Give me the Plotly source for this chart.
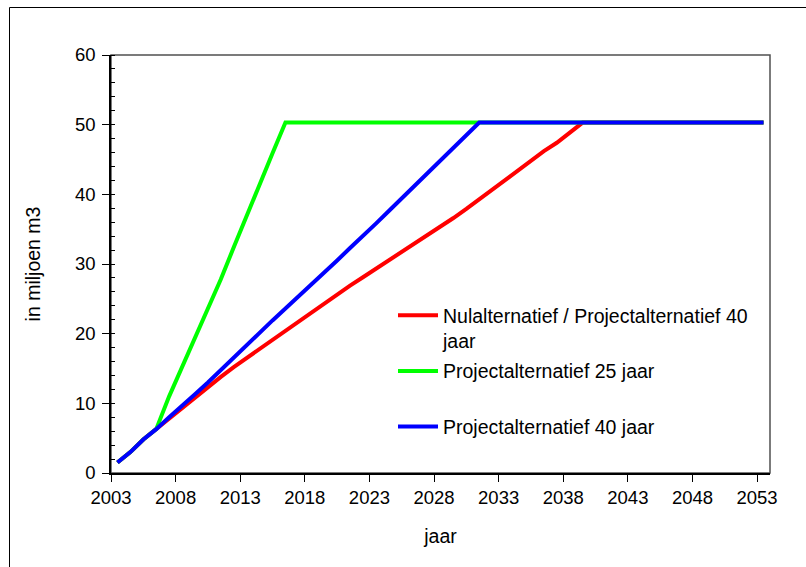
import plotly.graph_objects as go

# Cumulative volume per year (in miljoen m3)
years = list(range(2003, 2054))

nul_alt = [1.5, 3.0, 4.8, 6.3, 7.9, 9.3, 10.8, 12.4, 13.8, 15.2,
           16.5, 17.9, 19.2, 20.5, 21.8, 23.0, 24.3, 25.6, 26.9, 28.1,
           29.3, 30.5, 31.7, 32.9, 34.1, 35.3, 36.6, 37.9, 39.3, 40.7,
           42.1, 43.5, 44.9, 46.2, 47.4, 48.8, 50.3] + [50.3] * 14

proj_25 = [1.5, 3.0, 4.8, 6.3, 11.0, 15.2, 19.2, 23.5, 27.8, 32.4,
           37.0, 41.5, 45.9, 50.3] + [50.3] * 37

proj_40 = [1.5, 3.0, 4.8, 6.3, 8.0, 9.6, 11.3, 13.0, 14.8, 16.6,
           18.4, 20.2, 21.9, 23.6, 25.3, 27.0, 28.8, 30.5, 32.3, 34.0,
           35.8, 37.6, 39.4, 41.2, 43.0, 44.8, 46.6, 48.4, 50.3] + [50.3] * 22

series_names = ["Nulalternatief / Projectalternatief 40<br>jaar",
                "Projectalternatief 25 jaar<br> ",
                "Projectalternatief 40 jaar<br> "]
series_colors = ["#FF0000", "#00FF00", "#0000FF"]
x_ticks = list(range(2003, 2054, 5))

W, H = 806, 567
L, R, T, B = 111, 36, 55, 94
PW, PH = W - L - R, H - T - B


def px_x(p):
    return (p - L) / PW


def px_y(p):
    return (H - B - p) / PH


# each point sits in the middle of its year slot
xpos = [y + 0.5 for y in years]

fig = go.Figure()
for name, vals, col in zip(series_names, [nul_alt, proj_25, proj_40], series_colors):
    fig.add_trace(go.Scatter(
        x=xpos, y=vals, mode="lines", name=name,
        line=dict(color=col, width=4), legendgroup=name,
    ))

font = "Liberation Sans, Arial, sans-serif"

fig.update_layout(
    width=W, height=H,
    margin=dict(l=L, r=R, t=T, b=B),
    paper_bgcolor="white", plot_bgcolor="white",
    font=dict(family=font, size=18, color="black"),
    showlegend=True,
    legend=dict(
        x=px_x(393), y=px_y(296), xanchor="left", yanchor="top",
        bgcolor="rgba(0,0,0,0)", borderwidth=0,
        font=dict(size=19.5), valign="top", tracegroupgap=2,
        itemwidth=40,
    ),
    xaxis=dict(
        range=[2003, 2054], tickmode="array", tickvals=x_ticks,
        ticktext=[str(t) for t in x_ticks],
        showgrid=False, zeroline=False,
        showline=True, linecolor="black", linewidth=1.5,
        ticks="outside", ticklen=7, tickcolor="black", tickwidth=1,
        tickfont=dict(size=18.5),
        title=dict(text="jaar", font=dict(size=19.5), standoff=22),
    ),
    yaxis=dict(
        range=[0, 60], dtick=10,
        showgrid=False, zeroline=False,
        showline=True, linecolor="black", linewidth=1.5,
        ticks="outside", ticklen=7, tickcolor="black", tickwidth=1,
        ticklabelstandoff=3,
        minor=dict(dtick=2, ticks="inside", ticklen=4, tickcolor="black", tickwidth=1),
        tickfont=dict(size=18.5),
        title=dict(text="in miljoen m3", font=dict(size=19.5), standoff=29),
    ),
    shapes=[
        # plot area frame
        dict(type="rect", xref="paper", yref="paper", x0=0, x1=1, y0=0, y1=1,
             line=dict(color="#505050", width=1.5), layer="below"),
        # outer chart frame
        dict(type="rect", xref="paper", yref="paper",
             x0=px_x(9.5), x1=px_x(830), y0=px_y(600), y1=px_y(7.5),
             line=dict(color="black", width=1), layer="below"),
    ],
)

fig.write_html("out.html")
